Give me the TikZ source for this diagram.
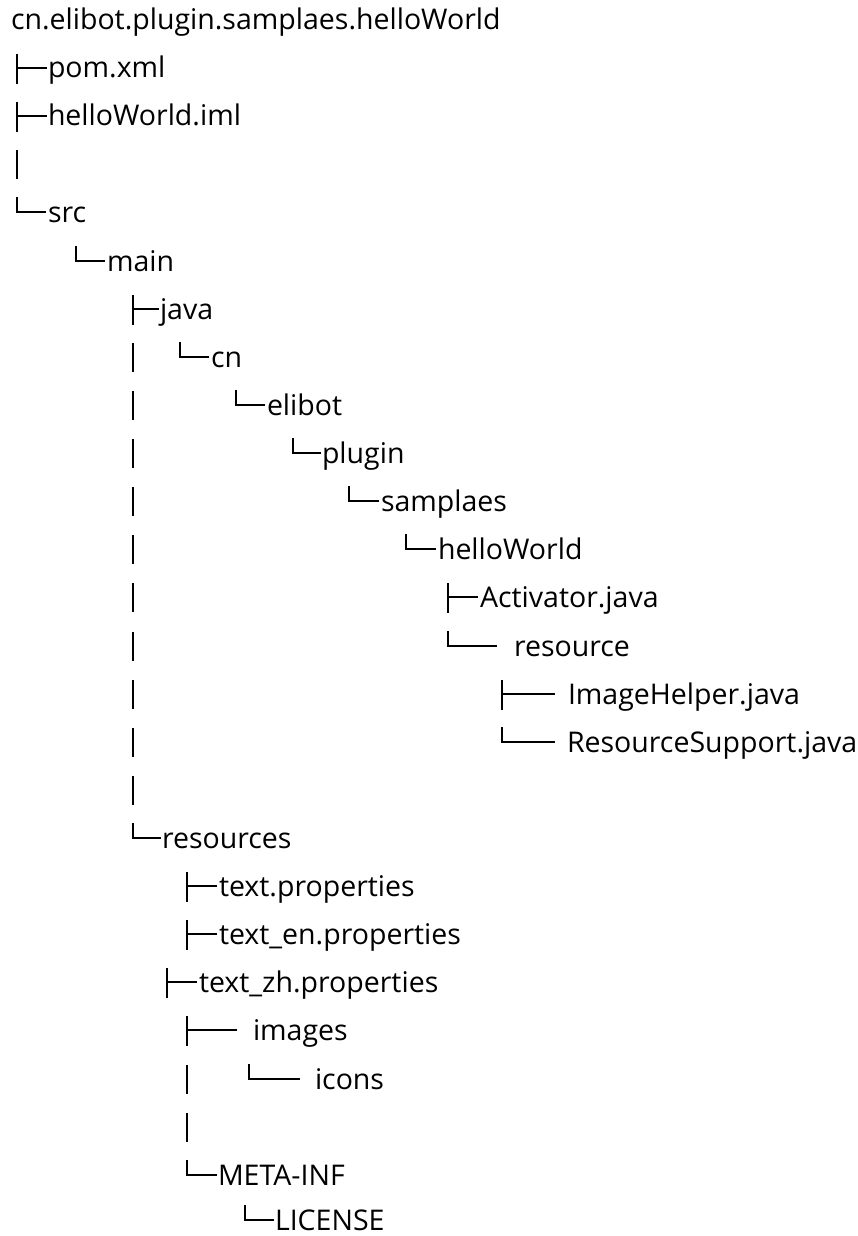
\documentclass[tikz,border=0pt]{standalone}
\usepackage{fontspec}
\setmainfont{Open Sans}
\begin{document}
\begin{tikzpicture}[x=1pt,y=-1pt,
  glyph/.style={line width=2pt,black},
  label/.style={anchor=base west,inner sep=0pt,outer sep=0pt,
    font=\fontsize{28.5}{34}\selectfont,text=black},
  pics/tee/.style={code={\draw[glyph] (0,-14) -- (0,16) (0,0) -- (#1,0);}},
  pics/corner/.style={code={\draw[glyph] (0,-15) -- (0,0) -- (#1,0);}},
  pics/bar/.style={code={\draw[glyph] (0,-14) -- (0,15);}}]
\useasboundingbox (0,0) rectangle (858,1236);
% rows: c_i = 20 + (i-1)*48.1, baseline = c_i + 10
\node[label] (root) at (11,30) {cn.elibot.plugin.samplaes.helloWorld};
% row 2
\pic at (17,68) {tee=30};
\node[label] (pom) at (48,78) {pom.xml};
% row 3
\pic at (17,116) {tee=30};
\node[label] (iml) at (48,126) {helloWorld.iml};
% row 4
\pic at (17,164) {bar};
% row 5
\pic at (17,212) {corner=29};
\node[label] (src) at (48,222) {src};
% row 6
\pic at (76,261) {corner=29};
\node[label] (main) at (107,271) {main};
% row 7
\pic at (133,309) {tee=26};
\node[label] (java) at (160,319) {java};
% rows 8-17 bar
\foreach \c in {357,405,453,501,549,597,646,694,742,790}
  \pic at (133,\c) {bar};
% row 8
\pic at (180,357) {corner=29};
\node[label] (cn) at (211,367) {cn};
% row 9
\pic at (236,405) {corner=29};
\node[label] (elibot) at (267,415) {elibot};
% row 10
\pic at (293,453) {corner=28};
\node[label] (plugin) at (322,463) {plugin};
% row 11
\pic at (349,501) {corner=30};
\node[label] (samplaes) at (381,511) {samplaes};
% row 12
\pic at (406,549) {corner=30};
\node[label] (hw) at (438,559) {helloWorld};
% row 13
\pic at (448,597) {tee=30};
\node[label] (act) at (480,607) {Activator.java};
% row 14
\pic at (448,646) {corner=49};
\node[label] (resource) at (514,656) {resource};
% row 15
\pic at (502,694) {tee=53};
\node[label] (img) at (568,704) {ImageHelper.java};
% row 16
\pic at (502,742) {corner=53};
\node[label] (rs) at (567,752) {ResourceSupport.java};
% row 18
\pic at (133,838) {corner=28};
\node[label] (resources) at (162,848) {resources};
% row 19
\pic at (187,886) {tee=30};
\node[label] (tp) at (219,896) {text.properties};
% row 20
\pic at (187,934) {tee=30};
\node[label] (tpen) at (219,944) {text\_en.properties};
% row 21
\pic at (167,982) {tee=30};
\node[label] (tpzh) at (199,992) {text\_zh.properties};
% row 22
\pic at (187,1030) {tee=50};
\node[label] (images) at (253,1040) {images};
% row 23
\pic at (187,1079) {bar};
\pic at (249,1079) {corner=51};
\node[label] (icons) at (315,1089) {icons};
% row 24
\pic at (187,1127) {bar};
% row 25
\pic at (187,1175) {corner=30};
\node[label] (meta) at (218,1185) {META-INF};
% row 26
\pic at (245,1220) {corner=29};
\node[label,text depth=0pt] (lic) at (275,1230) {LICENSE};
\end{tikzpicture}
\end{document}
